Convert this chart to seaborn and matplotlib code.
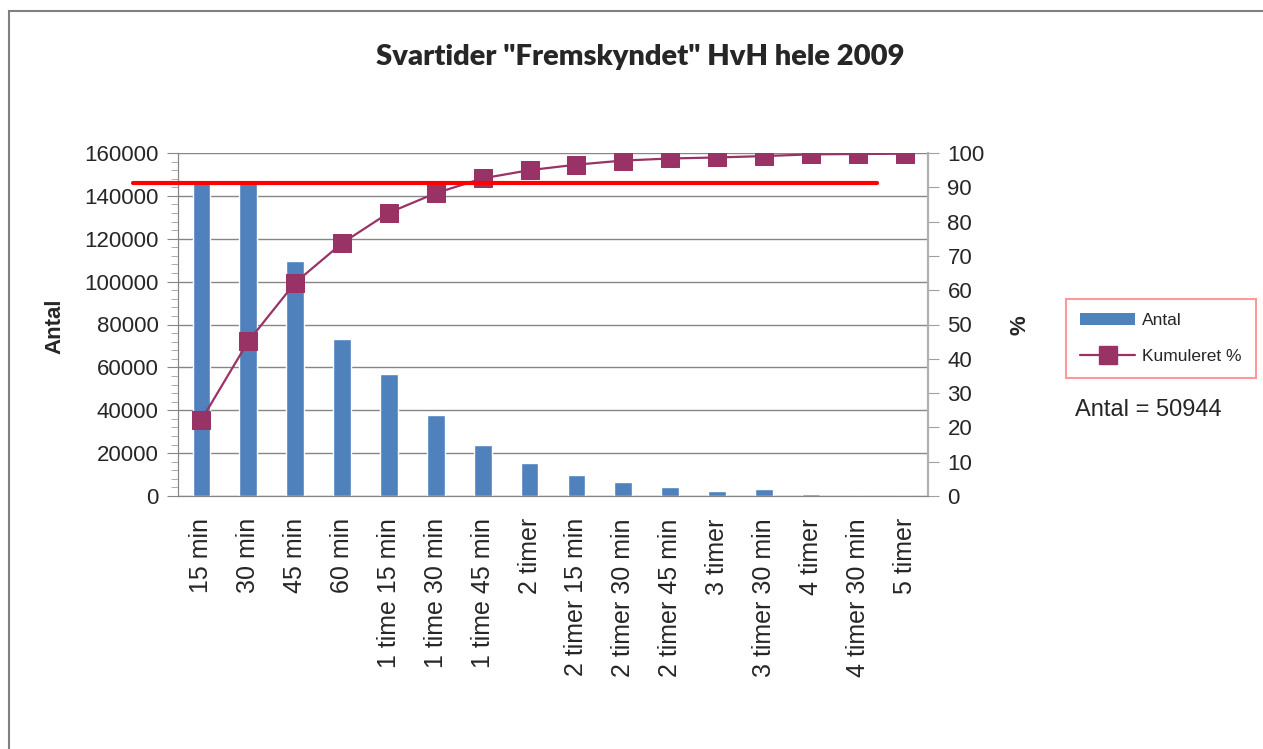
import numpy as np
import pandas as pd
import matplotlib
matplotlib.use("Agg")
import matplotlib.pyplot as plt
import matplotlib.transforms as mtransforms
from matplotlib.lines import Line2D
from matplotlib.patches import Patch, Rectangle
import seaborn as sns

# data
kategorier = ["15 min", "30 min", "45 min", "60 min", "1 time 15 min", "1 time 30 min",
              "1 time 45 min", "2 timer", "2 timer 15 min", "2 timer 30 min", "2 timer 45 min",
              "3 timer", "3 timer 30 min", "4 timer", "4 timer 30 min", "5 timer"]
antal = [146800, 146800, 109700, 73200, 57000, 37900, 23900, 15300, 9800, 6700,
         4200, 2300, 3200, 900, 150, 100]
kumuleret = [22.2, 45.1, 62.2, 73.7, 82.6, 88.3, 92.6, 95.0, 96.6, 97.8,
             98.4, 98.7, 99.1, 99.6, 99.7, 99.8]
maal = 91.3
antal_tekst = "Antal = 50944"
titel = 'Svartider "Fremskyndet" HvH hele 2009'

df = pd.DataFrame({"kategori": kategorier, "antal": antal, "kumuleret": kumuleret})
df["pos"] = np.arange(len(df))

sns.set_style("white")
plt.rcParams["font.family"] = ["Liberation Sans", "DejaVu Sans"]

bar_farve = "#4F81BD"
linje_farve = "#993366"
graa = "#868686"

fig = plt.figure(figsize=(12.63, 7.49), dpi=100)
ax = fig.add_axes([178 / 1263, 1 - 496 / 749, 750 / 1263, 343 / 749])
ax2 = ax.twinx()

sns.barplot(data=df, x="kategori", y="antal", color=bar_farve, saturation=1,
            width=0.38, ax=ax)
sns.lineplot(data=df, x="pos", y="kumuleret", color=linje_farve, marker="s",
             markersize=12.5, markeredgecolor=linje_farve, linewidth=1.6, ax=ax2)

ax.set_xlim(-0.5, len(df) - 0.5)
ax.set_ylim(0, 160000)
ax.set_yticks(np.arange(0, 160001, 20000))
ax.set_yticks(np.arange(0, 160001, 4000), minor=True)
ax2.set_ylim(0, 100)
ax2.set_yticks(np.arange(0, 101, 10))

ax.grid(axis="y", color=graa, linewidth=1)
ax.set_axisbelow(True)
ax2.grid(False)

ax.set_xticks(np.arange(len(df)))
ax.set_xticklabels(kategorier, rotation=90, fontsize=18)
ax.set_xticks(np.arange(-0.5, len(df), 1), minor=True)
ax.tick_params(axis="x", which="major", length=0, pad=16)
ax.tick_params(axis="x", which="minor", length=8, color="#a0a0a0", width=1, direction="out")
ax.tick_params(axis="y", which="major", labelsize=16, length=8, color=graa, direction="out",
               left=True, pad=6)
ax.tick_params(axis="y", which="minor", length=5, color="#a0a0a0", direction="out", left=True)
ax2.tick_params(axis="y", labelsize=16, length=8, color="#a0a0a0", direction="out",
                right=True, pad=6)

ax.set_xlabel("")
ax.set_ylabel("")
ax2.set_xlabel("")
ax2.set_ylabel("")

for a in (ax, ax2):
    a.spines["top"].set_visible(False)
    a.spines["left"].set_color(graa)
    a.spines["bottom"].set_color(graa)
    a.spines["right"].set_color("#b0b0b0")
    a.spines["right"].set_linewidth(1.5)

# threshold line
trans = mtransforms.blended_transform_factory(ax2.transAxes, ax2.transData)
ax2.plot([-0.06, 0.932], [maal, maal], color="red", linewidth=3, transform=trans,
         clip_on=False, zorder=5)

fig.text(0.507, 1 - 57 / 749, titel, ha="center", va="center", fontsize=21,
         fontweight="heavy", family="Lato")
fig.text(55 / 1263, 1 - 326 / 749, "Antal", rotation=90, ha="center", va="center",
         fontsize=16, fontweight="bold")
fig.text(1020 / 1263, 1 - 325 / 749, "%", rotation=90, ha="center", va="center",
         fontsize=16, fontweight="bold")
fig.text(1075 / 1263, 1 - 410 / 749, antal_tekst, ha="left", va="center", fontsize=17)

handles = [Patch(facecolor=bar_farve, edgecolor="none"),
           Line2D([], [], color=linje_farve, marker="s", markersize=12.5, linewidth=1.6)]
leg = fig.legend(handles, ["Antal", "Kumuleret %"], loc="upper left",
                 bbox_to_anchor=(1066 / 1263, 1 - 299 / 749), fontsize=12.5,
                 frameon=True, fancybox=False, borderpad=0.8, labelspacing=1.2,
                 handlelength=3.2, handletextpad=0.4, borderaxespad=0)
leg.get_frame().set_edgecolor("#FF8080")
leg.get_frame().set_linewidth(1.5)

fig.patches.append(Rectangle((9 / 1263, -0.1), 1.1, 1 - 11 / 749 + 0.1,
                             transform=fig.transFigure, fill=False,
                             edgecolor="#808080", linewidth=1.5))

fig.savefig("out.png", dpi=100)
